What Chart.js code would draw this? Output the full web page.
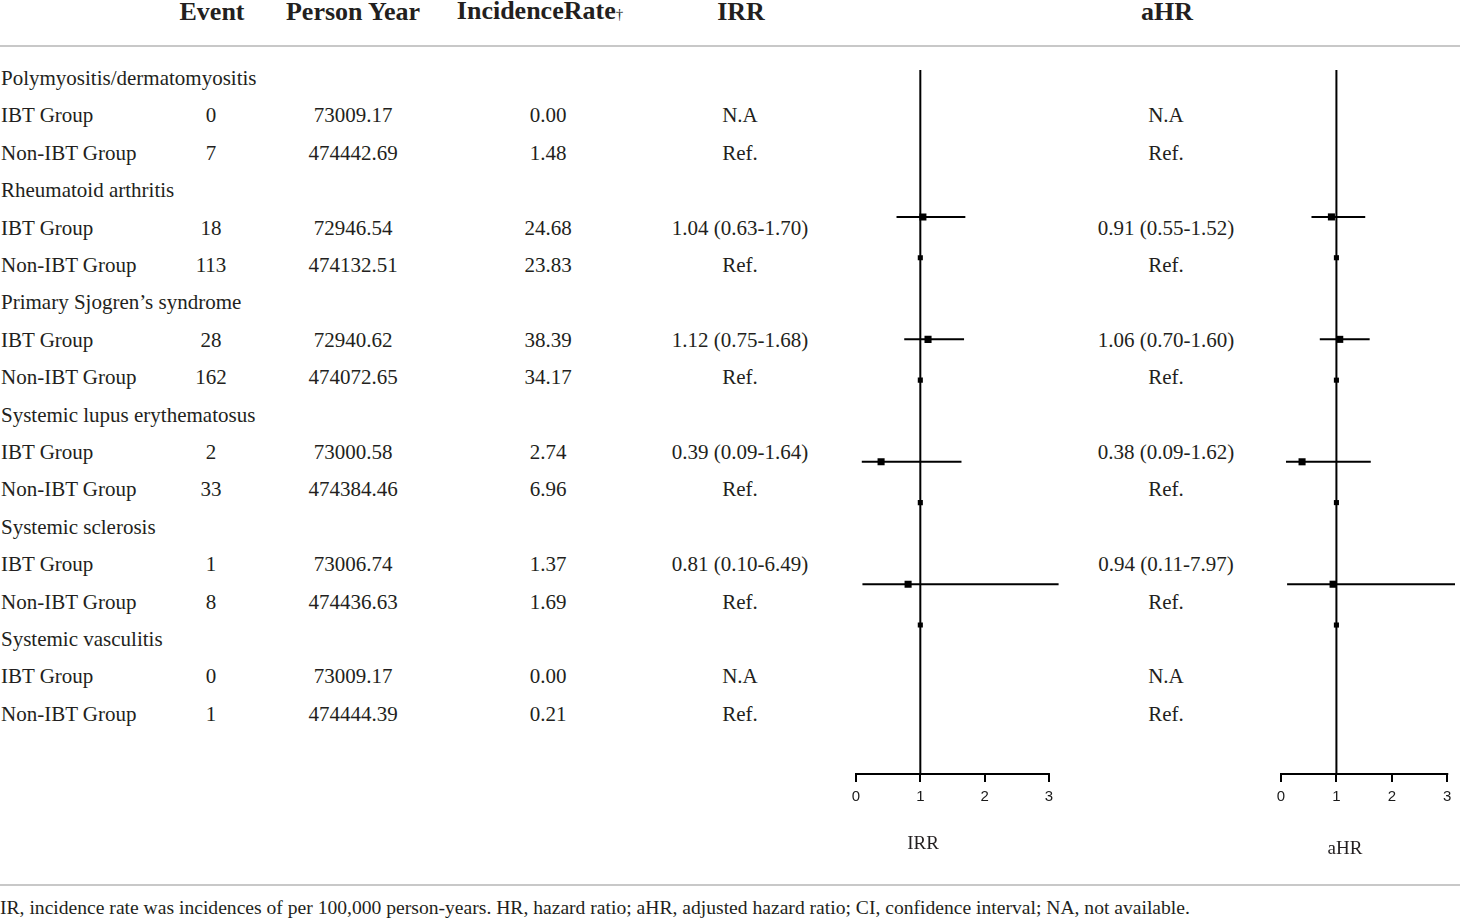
<!DOCTYPE html>
<html>
<head>
<meta charset="utf-8">
<script src="https://cdn.jsdelivr.net/npm/chart.js@4.4.1/dist/chart.umd.min.js"></script>
<style>
  body { margin: 0; background: #fff; }
  #page { position: relative; width: 1460px; height: 919px; overflow: hidden;
          font-family: "Liberation Serif", "DejaVu Serif", serif; color: #231f20; }
  .t { position: absolute; white-space: nowrap; font-size: 21px; line-height: 24px; transform: translate(-50%, -50%); }
  .t.l { transform: translate(0, -50%); }
  .t.h { font-weight: bold; font-size: 26px; line-height: 30px; }
  .t.foot { font-size: 19.6px; }
  .t.axt { font-size: 19px; }
  .rule { position: absolute; left: 0; width: 1460px; height: 2px; background: #c8c8c8; }
  canvas { position: absolute; }
</style>
</head>
<body>
<div id="page">
  <div class="rule" style="top:45px"></div>
  <div class="rule" style="top:884px"></div>
  <canvas id="irrChart" width="250" height="810" style="left:830px;top:60px"></canvas>
  <canvas id="ahrChart" width="205" height="810" style="left:1255px;top:60px"></canvas>
</div>
<script>
const headers = ["Event", "Person Year", "IncidenceRate", "IRR", "aHR"];
const diseases = [
    "Polymyositis/dermatomyositis",
    "Rheumatoid arthritis",
    "Primary Sjogren’s syndrome",
    "Systemic lupus erythematosus",
    "Systemic sclerosis",
    "Systemic vasculitis"
];
const groups = ["IBT Group", "Non-IBT Group"];
const events = [[0, 7], [18, 113], [28, 162], [2, 33], [1, 8], [0, 1]];
const personYears = [
    ["73009.17", "474442.69"], ["72946.54", "474132.51"], ["72940.62", "474072.65"],
    ["73000.58", "474384.46"], ["73006.74", "474436.63"], ["73009.17", "474444.39"]
];
const incidence = [
    ["0.00", "1.48"], ["24.68", "23.83"], ["38.39", "34.17"],
    ["2.74", "6.96"], ["1.37", "1.69"], ["0.00", "0.21"]
];
const irrEst = [null, 1.04, 1.12, 0.39, 0.81, null];
const irrLow = [null, 0.63, 0.75, 0.09, 0.10, null];
const irrHigh = [null, 1.70, 1.68, 1.64, 6.49, null];
const ahrEst = [null, 0.91, 1.06, 0.38, 0.94, null];
const ahrLow = [null, 0.55, 0.70, 0.09, 0.11, null];
const ahrHigh = [null, 1.52, 1.60, 1.62, 7.97, null];
const refValue = 1;
const xTicks = [0, 1, 2, 3];
const footnote = "IR, incidence rate was incidences of per 100,000 person-years. HR, hazard ratio; aHR, adjusted hazard ratio; CI, confidence interval; NA, not available.";

const page = document.getElementById("page");
const addText = (txt, x, y, cls, html) => {
    const d = document.createElement("div");
    d.className = "t " + (cls || "");
    d.style.left = x + "px";
    d.style.top = y + "px";
    if (html) d.innerHTML = txt; else d.textContent = txt;
    page.appendChild(d);
};

// table text
const colX = [211, 353, 548, 740, 1166];
const headX = [212, 353, 540, 741, 1167];
headers.forEach((h, i) => {
    if (i === 2) addText(h + '<span style="font-size:15px;font-weight:normal">†</span>', headX[i], 12, "h", true);
    else addText(h, headX[i], 12, "h");
});

const rowY = k => 78 + k * 37.4;
const fmt = (e, lo, hi) => e === null ? "N.A" : `${e.toFixed(2)} (${lo.toFixed(2)}-${hi.toFixed(2)})`;

diseases.forEach((d, i) => {
    addText(d, 1, rowY(3 * i), "l");
    groups.forEach((g, j) => {
        const y = rowY(3 * i + 1 + j);
        addText(g, 1, y, "l");
        addText(events[i][j], colX[0], y);
        addText(personYears[i][j], colX[1], y);
        addText(incidence[i][j], colX[2], y);
        addText(j === 0 ? fmt(irrEst[i], irrLow[i], irrHigh[i]) : "Ref.", colX[3], y);
        addText(j === 0 ? fmt(ahrEst[i], ahrLow[i], ahrHigh[i]) : "Ref.", colX[4], y);
    });
});

addText(footnote, 0, 908, "l foot");

// axis titles under each forest plot
addText("IRR", 923, 843, "axt");
addText("aHR", 1345, 848, "axt");

// axis line from first to last tick plus the reference line at 1
const forestLines = {
    id: "forestLines",
    beforeDatasetsDraw(chart) {
        const { ctx, chartArea, scales } = chart;
        const xs = scales.x;
        ctx.save();
        ctx.strokeStyle = "#000";
        ctx.lineWidth = 2;
        ctx.beginPath();
        ctx.moveTo(xs.getPixelForValue(refValue), chartArea.top);
        ctx.lineTo(xs.getPixelForValue(refValue), chartArea.bottom);
        ctx.moveTo(xs.getPixelForValue(xTicks[0]) - 1, chartArea.bottom);
        ctx.lineTo(xs.getPixelForValue(xTicks[xTicks.length - 1]) + 1, chartArea.bottom);
        ctx.stroke();
        ctx.restore();
    }
};

const makeForest = (id, est, low, high, xMax, padRight) => {
    const rows = [];
    diseases.forEach((d, i) => {
        if (est[i] !== null) rows.push(i);
    });
    const ciSets = rows.map(i => ({
        type: "line",
        data: [{ x: low[i], y: 3 * i + 1 }, { x: high[i], y: 3 * i + 1 }],
        borderColor: "#000",
        borderWidth: 2,
        pointRadius: 0,
        order: 2
    }));
    return new Chart(document.getElementById(id), {
        type: "scatter",
        data: {
            datasets: [
                {
                    data: rows.map(i => ({ x: est[i], y: 3 * i + 1 })),
                    pointStyle: "rect",
                    pointRadius: 5,
                    backgroundColor: "#000",
                    borderWidth: 0,
                    order: 0
                },
                {
                    data: rows.map(i => ({ x: refValue, y: 3 * i + 2 })),
                    pointStyle: "rect",
                    pointRadius: 3.6,
                    backgroundColor: "#000",
                    borderWidth: 0,
                    order: 0
                },
                ...ciSets
            ]
        },
        options: {
            responsive: false,
            animation: false,
            devicePixelRatio: 1,
            layout: { padding: { left: 26, right: padRight, top: 10, bottom: 0 } },
            plugins: { legend: { display: false }, tooltip: { enabled: false } },
            scales: {
                x: {
                    type: "linear",
                    min: 0,
                    max: xMax,
                    afterBuildTicks: s => { s.ticks = xTicks.map(v => ({ value: v })); },
                    afterFit: s => { s.height = 96; },
                    border: { display: false },
                    grid: { display: true, drawOnChartArea: false, drawTicks: true, tickLength: 8, color: "#000", lineWidth: 2 },
                    ticks: { color: "#1a1a1a", padding: 6, font: { family: "Liberation Sans", size: 15 } }
                },
                y: {
                    type: "linear",
                    display: false,
                    reverse: true,
                    min: 0.4,
                    max: 17.65
                }
            }
        },
        plugins: [forestLines]
    });
};

makeForest("irrChart", irrEst, irrLow, irrHigh, 3.15, 21.4);
makeForest("ahrChart", ahrEst, ahrLow, ahrHigh, 3.14, 2.1);
</script>
</body>
</html>
